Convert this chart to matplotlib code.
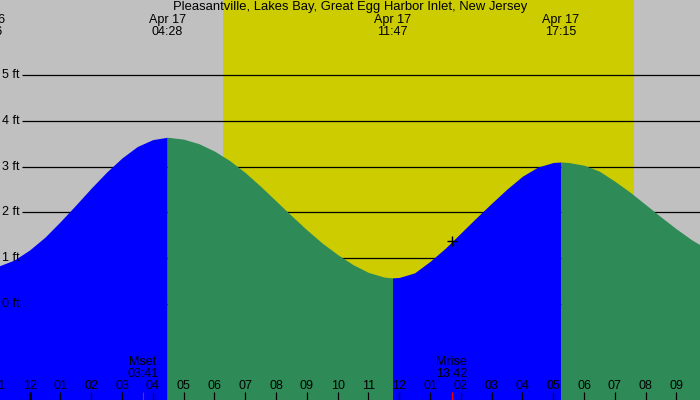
import matplotlib
matplotlib.use("Agg")
import matplotlib.pyplot as plt
import numpy as np

plt.rcParams['font.family'] = ['Liberation Sans', 'DejaVu Sans']

# ------------ data (hours from Apr 17 00:00) --------------------
title = "Pleasantville, Lakes Bay, Great Egg Harbor Inlet, New Jersey"

times = [-1.0, -0.5, 0.0, 0.5, 1.0, 1.5, 2.0, 2.5, 3.0, 3.5, 4.0, 4.467,
         4.5, 5.0, 5.5, 6.0, 6.5, 7.0, 7.5, 8.0, 8.5, 9.0, 9.5, 10.0,
         10.5, 11.0, 11.5, 11.783,
         12.0, 12.5, 13.0, 13.5, 14.0, 14.5, 15.0, 15.5, 16.0, 16.5, 17.0, 17.25,
         17.5, 18.0, 18.5, 19.0, 19.5, 20.0, 20.5, 21.0, 21.5, 22.0]
heights = [0.83, 0.96, 1.18, 1.46, 1.80, 2.16, 2.53, 2.88, 3.19, 3.44, 3.59, 3.64,
           3.64, 3.60, 3.50, 3.34, 3.13, 2.87, 2.57, 2.25, 1.93, 1.62, 1.33, 1.08,
           0.86, 0.69, 0.59, 0.57,
           0.58, 0.68, 0.93, 1.22, 1.55, 1.88, 2.20, 2.51, 2.79, 2.99, 3.09, 3.10,
           3.09, 3.03, 2.90, 2.68, 2.44, 2.17, 1.90, 1.64, 1.40, 1.20]

# tide extremes: time, label
ext_times = [-1.40, 4.467, 11.783, 17.25]
ext_labels = ["Apr 16\n22:36", "Apr 17\n04:28", "Apr 17\n11:47", "Apr 17\n17:15"]

sunrise, sunset = 6.29, 19.62
moon_times = [3.683, 13.70]
moon_labels = ["Mset\n03:41", "Mrise\n13:42"]
now_t, now_h = 13.72, 1.37

tick_hours = list(range(-1, 22))
tick_labels = ["11", "12", "01", "02", "03", "04", "05", "06", "07", "08", "09", "10",
               "11", "12", "01", "02", "03", "04", "05", "06", "07", "08", "09"]
ft_levels = [0, 1, 2, 3, 4, 5]

# ------------ plot --------------------
fig = plt.figure(figsize=(7, 4), dpi=100, facecolor='#c0c0c0')
ax = fig.add_axes([0, 0, 1, 1])
ax.set_facecolor('#c0c0c0')
ax.set_xlim(-0.961, 21.766)
ax.set_ylim(-2.096, 6.638)
for s in ax.spines.values():
    s.set_visible(False)
ax.set_xticks([])
ax.set_yticks([])

ax.axvspan(sunrise, sunset, color='#cccc00', lw=0, zorder=0)
ax.hlines(ft_levels, -0.247, 21.766, color='black', lw=0.9, zorder=1)

t = np.array(times)
h = np.array(heights)
bounds = [t[0]] + ext_times[1:] + [t[-1]]
for i in range(len(bounds) - 1):
    m = (t >= bounds[i]) & (t <= bounds[i + 1])
    col = '#0000ff' if i % 2 == 0 else '#2e8b57'
    ax.fill_between(t[m], h[m], -3, color=col, lw=0, zorder=2)

ax.plot([now_t], [now_h], marker='+', color='black', ms=7, mew=1, zorder=5)

fs = 9
for lv in ft_levels:
    ax.text(0.003, lv, f"{lv} ft", transform=ax.get_yaxis_transform(),
            ha='left', va='center', fontsize=fs, zorder=6)

tr = ax.get_xaxis_transform()
ax.text(0.5, 0.9825, title, transform=ax.transAxes, ha='center', va='center', fontsize=9.4)
for et, el in zip(ext_times, ext_labels):
    ax.text(et, 0.934, el, transform=tr, ha='center', va='center',
            fontsize=fs, linespacing=1.0)

for mt, ml in zip(moon_times, moon_labels):
    ax.text(mt, 0.079, ml, transform=tr, ha='center', va='center',
            fontsize=fs, linespacing=1.0, zorder=6)
    ax.vlines(mt, 0, 0.02, transform=tr, color='red', lw=0.8, zorder=6)

for th, tl in zip(tick_hours, tick_labels):
    ax.text(th, 0.035, tl, transform=tr, ha='center', va='center', fontsize=fs, zorder=6)
    ax.vlines(th, 0, 0.02, transform=tr, color='black',
              lw=2.2 if th == 0 else 0.9, zorder=6)

fig.savefig('out.png', dpi=100, facecolor=fig.get_facecolor())
